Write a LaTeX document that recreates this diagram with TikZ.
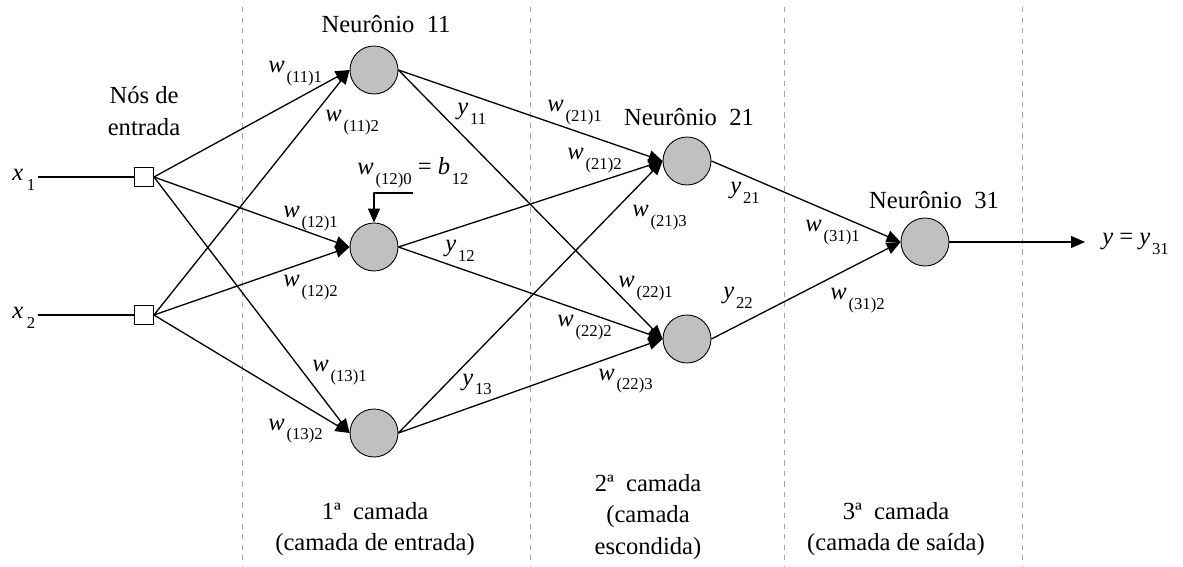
\documentclass[tikz,border=0pt]{standalone}
\usepackage{fontspec}
\setmainfont{Liberation Serif}
\usetikzlibrary{arrows.meta}
\definecolor{cinzaneuronio}{RGB}{192,192,192}
\newcommand{\indice}[1]{\raisebox{-5.5pt}{\fontsize{9.5}{10}\selectfont #1}}
\newcommand{\wsub}[1]{\textit{w}\kern1pt\indice{#1}}
\newcommand{\ysub}[1]{\textit{y}\kern1pt\indice{#1}}
\begin{document}
\begin{tikzpicture}[x=0.02cm, y=-0.02cm, >={Triangle[length=0.28cm, width=0.24cm]}, line join=round,
	font=\fontsize{14}{18}\selectfont,
	neuronio/.style={circle, draw, fill=cinzaneuronio, minimum size=0.96cm, inner sep=0pt, line width=0.5pt},
	entrada/.style={rectangle, draw, fill=white, minimum size=0.38cm, inner sep=0pt, line width=0.5pt},
	peso/.style={anchor=base west, inner sep=0pt},
	camada/.style={align=center, inner sep=0pt},
	divisao/.style={gray!70, dashed, line width=0.4pt},
	ligacao/.style={->, line width=0.75pt}]
	\useasboundingbox (0,0) rectangle (1183,567);
	% ==================== DIVISÕES DAS CAMADAS ====================
	\foreach \xd in {242, 530, 784, 1022}
	\draw[divisao] (\xd, 7) -- (\xd, 567);
	% ==================== NÓS ====================
	\node[entrada] (e1) at (144, 177) {};
	\node[entrada] (e2) at (144, 315) {};
	\node[neuronio] (n11) at (374, 70) {};
	\node[neuronio] (n12) at (374, 247) {};
	\node[neuronio] (n13) at (374, 433) {};
	\node[neuronio] (n21) at (687, 161) {};
	\node[neuronio] (n22) at (687, 339) {};
	\node[neuronio] (n31) at (925, 242) {};
	\path (38, 177) coordinate (ix1)
	(38, 315) coordinate (ix2)
	(413, 193) coordinate (bias)
	(1085, 242) coordinate (saida);
	% ==================== LIGAÇÕES ====================
	\draw[line width=0.75pt] (ix1) -- (e1);
	\draw[line width=0.75pt] (ix2) -- (e2);
	\foreach \e in {e1, e2}
	\foreach \n in {n11, n12, n13}
	\draw[ligacao] (\e.east) -- (\n.west);
	\foreach \n in {n11, n12, n13}
	\foreach \m in {n21, n22}
	\draw[ligacao] (\n.east) -- (\m.west);
	\draw[ligacao] (n21.east) -- (n31.west);
	\draw[ligacao] (n22.east) -- (n31.west);
	\draw[ligacao] (n31.east) -- (saida);
	\draw[ligacao] (bias) -| (n12.north);
	% ==================== RÓTULOS ====================
	\node[peso] (lx1) at (12, 181) {\textit{x}\kern2pt\indice{1}};
	\node[peso] (lx2) at (12, 319) {\textit{x}\kern2pt\indice{2}};
	\node[camada] (lent) at (144, 111) {Nós de\\entrada};
	\node (ln11) at (386, 24) {Neurônio\ \ 11};
	\node (ln21) at (689, 117) {Neurônio\ \ 21};
	\node (ln31) at (934, 200) {Neurônio\ \ 31};
	\node[peso] (w111) at (268, 73) {\wsub{(11)1}};
	\node[peso] (w112) at (325, 122) {\wsub{(11)2}};
	\node[peso] (w121) at (283, 218) {\wsub{(12)1}};
	\node[peso] (w122) at (283, 287) {\wsub{(12)2}};
	\node[peso] (w131) at (312, 372) {\wsub{(13)1}};
	\node[peso] (w132) at (268, 430) {\wsub{(13)2}};
	\node[peso] (w120) at (357, 175) {\wsub{(12)0} = \textit{b}\kern1pt\indice{12}};
	\node[peso] (y11) at (457, 115) {\ysub{11}};
	\node[peso] (y12) at (445, 252) {\ysub{12}};
	\node[peso] (y13) at (462, 385) {\ysub{13}};
	\node[peso] (w211) at (547, 112) {\wsub{(21)1}};
	\node[peso] (w212) at (567, 160) {\wsub{(21)2}};
	\node[peso] (w213) at (632, 217) {\wsub{(21)3}};
	\node[peso] (w221) at (618, 288) {\wsub{(22)1}};
	\node[peso] (w222) at (557, 327) {\wsub{(22)2}};
	\node[peso] (w223) at (598, 380) {\wsub{(22)3}};
	\node[peso] (y21) at (730, 194) {\ysub{21}};
	\node[peso] (y22) at (723, 299) {\ysub{22}};
	\node[peso] (w311) at (805, 232) {\wsub{(31)1}};
	\node[peso] (w312) at (830, 300) {\wsub{(31)2}};
	\node[peso] (ly) at (1102, 245) {\textit{y} = \ysub{31}};
	\node[camada] (c1) at (375, 529) {1ª\ \ camada\\(camada de entrada)};
	\node[camada] (c2) at (648, 517) {2ª\ \ camada\\(camada\\escondida)};
	\node[camada] (c3) at (896, 529) {3ª\ \ camada\\(camada de saída)};
\end{tikzpicture}
\end{document}
